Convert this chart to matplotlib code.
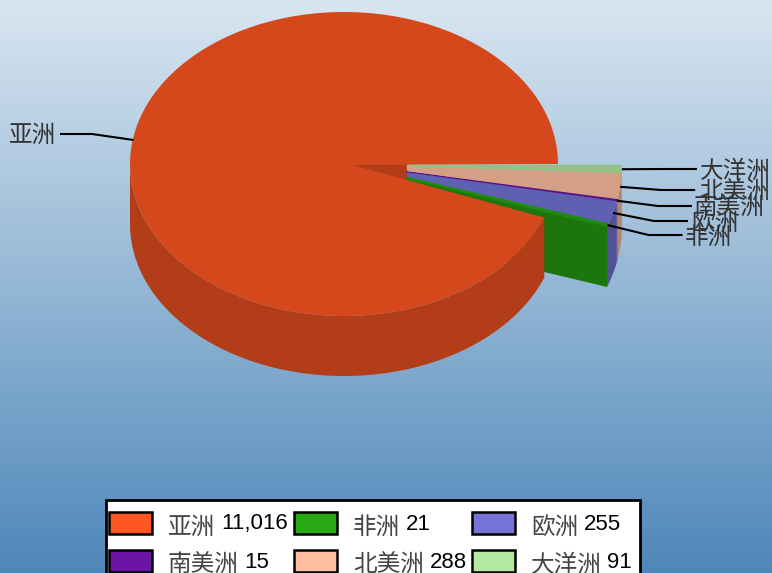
# -*- coding: utf-8 -*-
import numpy as np
import matplotlib
matplotlib.use('Agg')
import matplotlib.pyplot as plt
from matplotlib.patches import Rectangle

# data, in legend order
names = ['亚洲', '非洲', '欧洲', '南美洲', '北美洲', '大洋洲']
values = [11016, 21, 255, 15, 288, 91]
value_labels = ['11,016', '21', '255', '15', '288', '91']
colors = ['#FF5722', '#28A812', '#7474D8', '#6A14A4', '#FFBFA0', '#B4E8A0']

CJK = ['Noto Sans CJK SC', 'DejaVu Sans']
LATIN = 'Liberation Sans'


def shade(hex_color, k):
    rgb = np.array(matplotlib.colors.to_rgb(hex_color))
    return tuple(rgb * k)


def rim(cx, cy, rx, ry, t0, t1, dy=0):
    t = np.radians(np.linspace(t0, t1, 200))
    return np.column_stack([cx + rx * np.cos(t), cy + ry * np.sin(t) + dy])


fig = plt.figure(figsize=(7.72, 5.73), dpi=100)
ax = fig.add_axes([0, 0, 1, 1])
ax.set_xlim(0, 772)
ax.set_ylim(573, 0)
ax.axis('off')

# background
top = np.array(matplotlib.colors.to_rgb('#D9E6F1'))
bottom = np.array(matplotlib.colors.to_rgb('#4E87B9'))
k = np.linspace(0, 1, 573)[:, None, None]
ax.imshow(top * (1 - k) + bottom * k, extent=(0, 772, 573, 0), aspect='auto', zorder=0)

# the slices run clockwise on screen from 3 o'clock, last legend entry first
total = sum(values)
order = [5, 4, 3, 2, 1, 0]
angles = {}
a = 0.0
for i in order:
    angles[i] = (a, a + values[i] / total * 360)
    a = a + values[i] / total * 360

depth = 61
apex = (352, 165)
small = (389, 165, 233, 173)   # exploded slices
big = (344, 164, 214, 152)     # main slice
cut_x = 407


def inner_point(t):
    p = rim(*small, t, t)[0]
    f = (cut_x - apex[0]) / (p[0] - apex[0])
    return apex[0] + (p[0] - apex[0]) * f, apex[1] + (p[1] - apex[1]) * f


# notch behind the small slices, main slice covers the extra part
t_end = angles[1][1]
ax.fill([apex[0] - 5, cut_x + 2, cut_x + 2, apex[0] - 5], [164, 164, 190, 170],
        color=shade(colors[0], 0.7), lw=0, zorder=1)

# sides of the small slices
for i in order[:-1]:
    t0, t1 = angles[i]
    r = rim(*small, t0, t1)
    wall = np.vstack([r, (r + [0, depth])[::-1]])
    ax.fill(wall[:, 0], wall[:, 1], color=shade(colors[i], 0.7), lw=0, zorder=2)

p = rim(*small, t_end, t_end)[0]
q = inner_point(t_end)
ax.fill([q[0], p[0], p[0], q[0]], [q[1], p[1], p[1] + depth, q[1] + depth],
        color=shade(colors[1], 0.7), lw=0, zorder=3)

# main slice
t0, t1 = angles[0]
wall_top = rim(*big, t0, 180)
wall = np.vstack([wall_top, (wall_top + [0, depth - 1])[::-1]])
ax.fill(wall[:, 0], wall[:, 1], color=shade(colors[0], 0.7), lw=0, zorder=4)
r = rim(*big, t0, t1)
ax.fill(np.r_[r[:, 0], apex[0]], np.r_[r[:, 1], apex[1]],
        color=shade(colors[0], 0.83), lw=0, zorder=5)

# tops of the small slices, the thin ones need an outline to show at all
for i in order[:-1]:
    t0, t1 = angles[i]
    r = rim(*small, t0, t1)
    a0 = inner_point(t0)
    a1 = inner_point(t1)
    c = shade(colors[i], 0.83)
    ax.fill(np.r_[r[:, 0], a1[0], a0[0]], np.r_[r[:, 1], a1[1], a0[1]],
            facecolor=c, edgecolor=c, lw=1.3 if values[i] < 30 else 0.3, zorder=6)

# leader lines and labels
label_y = {5: 169, 4: 190, 3: 206, 2: 221, 1: 235}
label_x = {5: 700, 4: 699, 3: 694, 2: 691, 1: 685}
for i in order[:-1]:
    mid = sum(angles[i]) / 2
    p = rim(*small, mid, mid)[0]
    ax.plot([p[0], p[0] + 41, p[0] + 75], [p[1], label_y[i], label_y[i]],
            color='black', lw=1.5, zorder=7, solid_capstyle='butt')
    ax.text(label_x[i], label_y[i] + 2, names[i], family=CJK, fontsize=17, color='#333333',
            va='center', ha='left', zorder=8)

mid = sum(angles[0]) / 2
p = rim(*big, mid, mid)[0]
ax.plot([p[0], 92, 60], [140, 134, 134], color='black', lw=1.5, zorder=7, solid_capstyle='butt')
ax.text(9, 135, names[0], family=CJK, fontsize=17, color='#333333', va='center', ha='left', zorder=8)

# legend
ax.add_patch(Rectangle((106, 500), 534, 90, fc='white', ec='black', lw=2, zorder=9))
col_x = [109, 294, 472]
row_y = [512, 550]
for n in range(6):
    x = col_x[n % 3]
    y = row_y[n // 3]
    ax.add_patch(Rectangle((x, y), 43, 22, fc=colors[n], ec='black', lw=1.8, zorder=10))
    ax.text(x + 59, y + 15, names[n], family=CJK, fontsize=17, color='#444444',
            va='center', ha='left', zorder=10)
    ax.text(x + 59 + 23.5 * len(names[n]) + 6, y + 12, value_labels[n], family=LATIN, fontsize=16,
            color='black', va='center', ha='left', zorder=10)

fig.savefig('out.png', dpi=100)
